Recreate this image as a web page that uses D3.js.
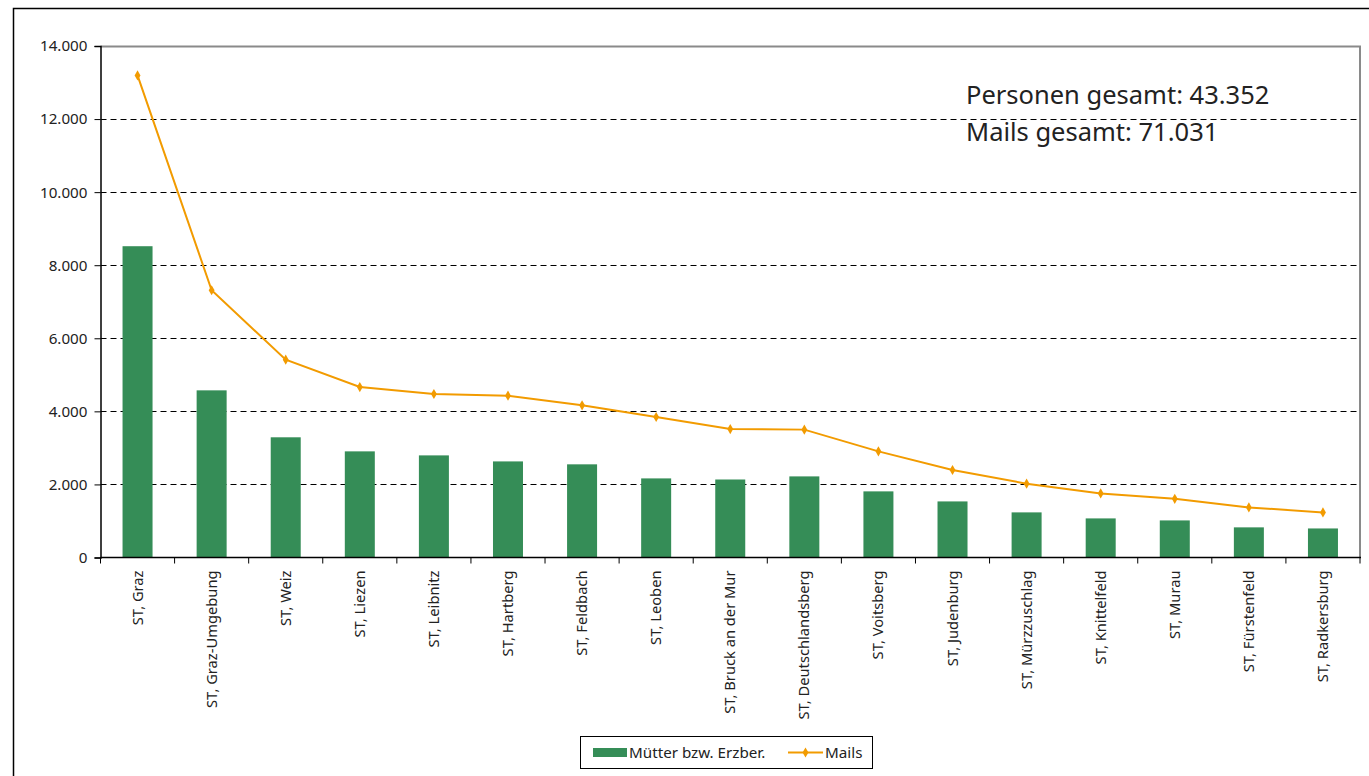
<!DOCTYPE html>
<html>
<head>
<meta charset="utf-8">
<script src="https://cdn.jsdelivr.net/npm/d3@7"></script>
<style>
  html, body { margin: 0; padding: 0; background: #fff; }
  svg { display: block; }
  text { font-family: "Noto Sans", "Open Sans", sans-serif; fill: #222; }
</style>
</head>
<body>
<svg id="chart" width="1369" height="776"></svg>
<script>
// Districts of Styria
const categories = [
  "ST, Graz", "ST, Graz-Umgebung", "ST, Weiz", "ST, Liezen", "ST, Leibnitz",
  "ST, Hartberg", "ST, Feldbach", "ST, Leoben", "ST, Bruck an der Mur",
  "ST, Deutschlandsberg", "ST, Voitsberg", "ST, Judenburg", "ST, Mürzzuschlag",
  "ST, Knittelfeld", "ST, Murau", "ST, Fürstenfeld", "ST, Radkersburg"
];
// Mothers / guardians per district
const personen = [8520, 4575, 3290, 2905, 2795, 2630, 2550, 2165, 2135, 2220, 1810, 1535, 1235, 1070, 1015, 825, 795];
// Mails per district
const mails = [13195, 7315, 5415, 4665, 4475, 4430, 4165, 3845, 3515, 3500, 2905, 2395, 2020, 1755, 1605, 1370, 1235];
const yTicks = [0, 2000, 4000, 6000, 8000, 10000, 12000, 14000];
const seriesNames = ["Mütter bzw. Erzber.", "Mails"];
const totals = ["Personen gesamt: 43.352", "Mails gesamt: 71.031"];

const green = "#358d57";
const orange = "#f29b00";

const svg = d3.select("#chart");
const plot = { left: 100.5, right: 1360, top: 46, bottom: 557.5 };

// outer frame
svg.append("rect")
  .attr("x", 13.5).attr("y", 8.5)
  .attr("width", 1420).attr("height", 800)
  .attr("fill", "none").attr("stroke", "#000").attr("stroke-width", 1.5);

const x = d3.scaleBand().domain(categories).range([plot.left, plot.right]).paddingInner(0).paddingOuter(0);
const y = d3.scaleLinear().domain([0, 14000]).range([plot.bottom, plot.top]);

const fmt = d => d === 0 ? "0" : d3.format(",")(d).replace(/,/g, ".");

// gridlines
svg.append("g").selectAll("line")
  .data(yTicks.filter(t => t > 0 && t < 14000))
  .join("line")
  .attr("x1", plot.left).attr("x2", plot.right)
  .attr("y1", d => Math.round(y(d)) + 0.5).attr("y2", d => Math.round(y(d)) + 0.5)
  .attr("stroke", "#000").attr("stroke-width", 1).attr("stroke-dasharray", "6,4");

// plot area top / right edge
svg.append("path")
  .attr("d", `M${plot.left},${plot.top + 0.5}H${plot.right}V${plot.bottom}`)
  .attr("fill", "none").attr("stroke", "#8a8a8a").attr("stroke-width", 2);

// bars
const barW = 30;
svg.append("g").selectAll("rect")
  .data(categories)
  .join("rect")
  .attr("x", (d) => x(d) + x.bandwidth() / 2 - barW / 2)
  .attr("width", barW)
  .attr("y", (d, i) => y(personen[i]))
  .attr("height", (d, i) => y(0) - y(personen[i]))
  .attr("fill", green);

// y axis
const yAxis = d3.axisLeft(y).tickValues(yTicks).tickFormat(fmt).tickSize(6).tickPadding(7);
const gy = svg.append("g").attr("transform", `translate(${plot.left},0)`).call(yAxis);
gy.select(".domain").attr("stroke", "#000").attr("stroke-width", 1.5);
gy.selectAll(".tick line").attr("stroke", "#000");
gy.selectAll(".tick text").style("font-size", "15.2px").attr("fill", "#222");

// x axis with ticks at category boundaries
const gx = svg.append("g").attr("transform", `translate(0,${plot.bottom})`);
gx.append("line").attr("x1", plot.left).attr("x2", plot.right + 1)
  .attr("stroke", "#000").attr("stroke-width", 1.5);
const bounds = categories.map(c => x(c)).concat([plot.right]);
gx.selectAll("line.tk").data(bounds).join("line").attr("class", "tk")
  .attr("x1", d => d).attr("x2", d => d).attr("y1", 0).attr("y2", 6)
  .attr("stroke", "#000");
gx.selectAll("text").data(categories).join("text")
  .attr("transform", d => `translate(${x(d) + x.bandwidth() / 2 + 5},${13}) rotate(-90)`)
  .attr("text-anchor", "end")
  .style("font-size", "14.7px")
  .text(d => d);

// mails line
const line = d3.line().x((d, i) => x(categories[i]) + x.bandwidth() / 2).y(d => y(d));
svg.append("path").datum(mails)
  .attr("d", line).attr("fill", "none")
  .attr("stroke", orange).attr("stroke-width", 2);
const diamond = d3.symbol().type(d3.symbolDiamond).size(30);
svg.append("g").selectAll("path")
  .data(mails).join("path")
  .attr("transform", (d, i) => `translate(${x(categories[i]) + x.bandwidth() / 2},${y(d)})`)
  .attr("d", diamond).attr("fill", orange);

// totals
svg.append("g").selectAll("text").data(totals).join("text")
  .attr("x", 966).attr("y", (d, i) => 104 + i * 37)
  .style("font-size", "25.5px")
  .text(d => d);

// legend
const lg = svg.append("g");
lg.append("rect").attr("x", 580.5).attr("y", 736.5).attr("width", 292).attr("height", 32)
  .attr("fill", "#fff").attr("stroke", "#000").attr("stroke-width", 1);
lg.append("rect").attr("x", 593).attr("y", 748).attr("width", 34).attr("height", 9).attr("fill", green);
lg.append("text").attr("x", 629).attr("y", 758).style("font-size", "15.2px").text(seriesNames[0]);
lg.append("line").attr("x1", 788).attr("x2", 823).attr("y1", 752.5).attr("y2", 752.5)
  .attr("stroke", orange).attr("stroke-width", 2);
lg.append("path").attr("transform", "translate(805.5,752.5)").attr("d", diamond).attr("fill", orange);
lg.append("text").attr("x", 825).attr("y", 758).style("font-size", "15.2px").text(seriesNames[1]);
</script>
</body>
</html>
